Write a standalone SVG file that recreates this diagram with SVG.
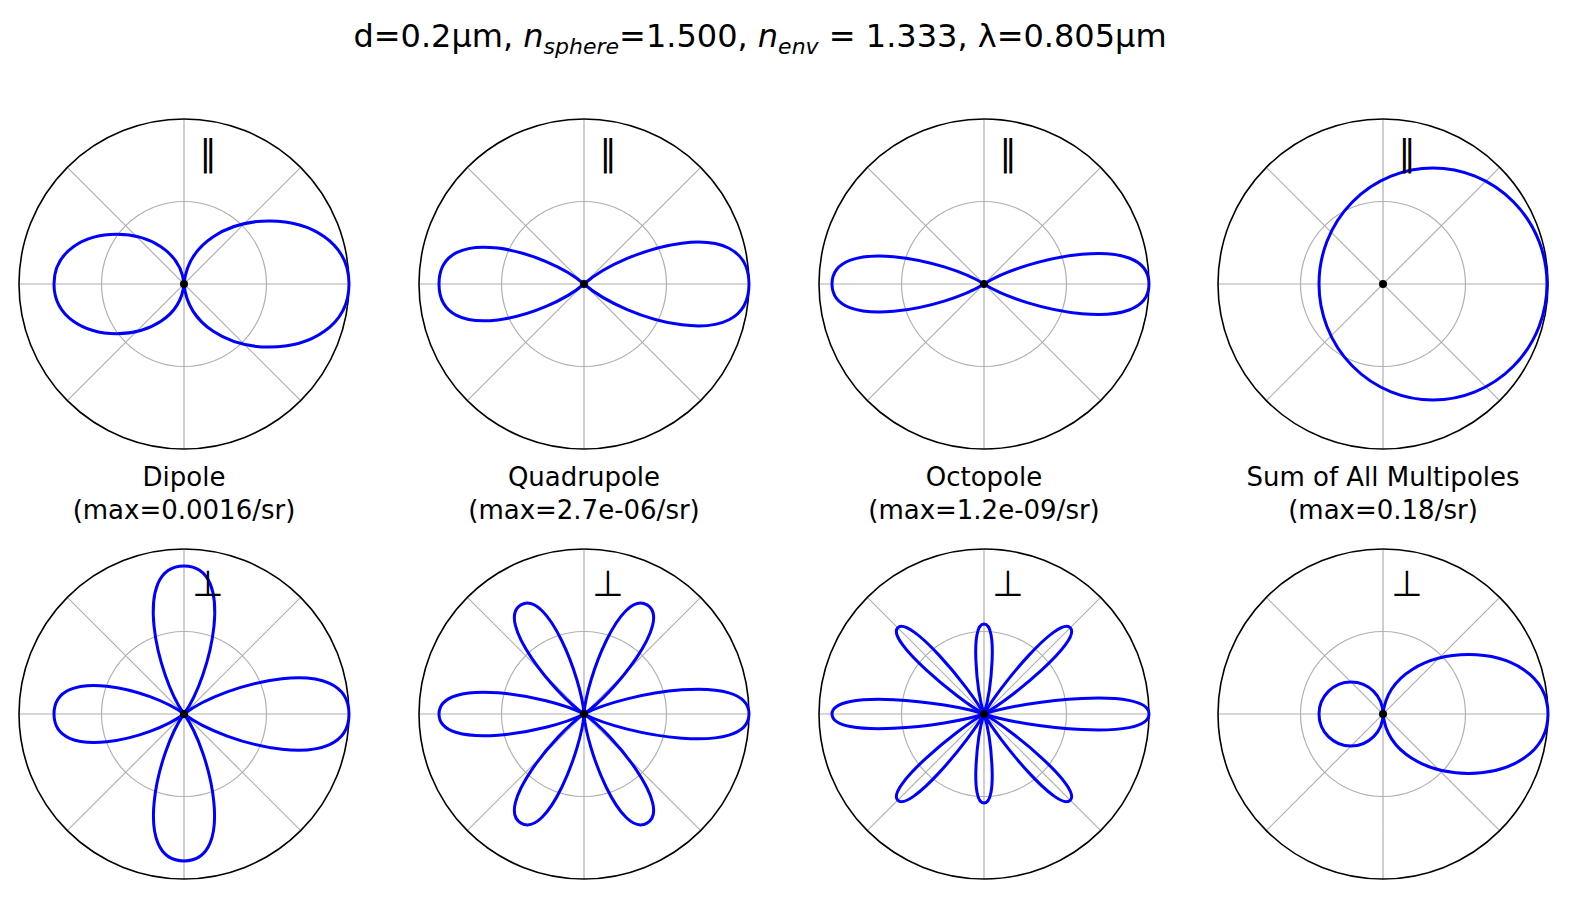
<svg xmlns="http://www.w3.org/2000/svg" xmlns:xlink="http://www.w3.org/1999/xlink" width="1587" height="910" viewBox="0 0 1587 910">
<style>
text{font-family:"DejaVu Sans",sans-serif;fill:#000}
.lbl{font-size:26px;text-anchor:middle}
.sym{font-size:36px;text-anchor:middle}
.grid{fill:none;stroke:#b0b0b0;stroke-width:1.2}
.frame{fill:none;stroke:#000;stroke-width:1.6}
.curve{fill:none;stroke:#0000ff;stroke-width:3;vector-effect:non-scaling-stroke}
</style>
<defs>
<g id="ax">
<circle r="165" fill="#fff"/>
<path class="grid" d="M-165 0H165M0 -165V165M-116.7 -116.7L116.7 116.7M-116.7 116.7L116.7 -116.7"/>
<circle class="grid" r="82.5"/>
<circle class="frame" r="165"/>
</g>
<path id="c51" class="curve" d="M0 0C5 -51 100 -51 100 0C100 51 5 51 0 0Z"/>
<path id="c48" class="curve" d="M0 0C5 -48 100 -48 100 0C100 48 5 48 0 0Z"/>
<path id="c34" class="curve" d="M0 0C25 -22 100 -44 100 0C100 44 25 22 0 0Z"/>
<path id="c30" class="curve" d="M0 0C25 -19 100 -38 100 0C100 38 25 19 0 0Z"/>
<path id="c28" class="curve" d="M0 0C25 -18 100 -36 100 0C100 36 25 18 0 0Z"/>
<path id="c25" class="curve" d="M0 0C25 -16 100 -32 100 0C100 32 25 16 0 0Z"/>
<path id="c20" class="curve" d="M0 0C25 -13 100 -26 100 0C100 26 25 13 0 0Z"/>
<path id="c19" class="curve" d="M0 0C25 -12.3 100 -24.5 100 0C100 24.5 25 12.3 0 0Z"/>
<path id="c13" class="curve" d="M0 0C25 -8.4 100 -16.8 100 0C100 16.8 25 8.4 0 0Z"/>
<path id="c12" class="curve" d="M0 0C25 -8 100 -16 100 0C100 16 25 8 0 0Z"/>
<path id="c11" class="curve" d="M0 0C25 -7.1 100 -14.2 100 0C100 14.2 25 7.1 0 0Z"/>
</defs>
<rect width="1587" height="910" fill="#fff"/>
<text x="760" y="47" font-size="32" text-anchor="middle">d=0.2μm, <tspan font-style="italic">n</tspan><tspan font-size="22" font-style="italic" dy="7">sphere</tspan><tspan dy="-7">=1.500, </tspan><tspan font-style="italic">n</tspan><tspan font-size="22" font-style="italic" dy="7">env</tspan><tspan dy="-7"> = 1.333, λ=0.805μm</tspan></text>

<g id="dipole-par" transform="translate(184,284)">
<use xlink:href="#ax"/>
<use xlink:href="#c51" transform="scale(1.65)"/>
<use xlink:href="#c51" transform="rotate(180) scale(1.3)"/>
<circle r="4"/>
<text class="sym" x="24" y="-118">∥</text>
</g>
<g id="quad-par" transform="translate(584,284)">
<use xlink:href="#ax"/>
<use xlink:href="#c34" transform="scale(1.65)"/>
<use xlink:href="#c34" transform="rotate(180) scale(1.45)"/>
<circle r="4"/>
<text class="sym" x="24" y="-118">∥</text>
</g>
<g id="oct-par" transform="translate(984,284)">
<use xlink:href="#ax"/>
<use xlink:href="#c25" transform="scale(1.65)"/>
<use xlink:href="#c25" transform="rotate(180) scale(1.52)"/>
<circle r="4"/>
<text class="sym" x="24" y="-118">∥</text>
</g>
<g id="sum-par" transform="translate(1383,284)">
<use xlink:href="#ax"/>
<ellipse class="curve" cx="50" cy="0" rx="114" ry="116"/>
<circle r="4"/>
<text class="sym" x="24" y="-118">∥</text>
</g>

<text class="lbl" x="184" y="486">Dipole</text>
<text class="lbl" x="184" y="519">(max=0.0016/sr)</text>
<text class="lbl" x="584" y="486">Quadrupole</text>
<text class="lbl" x="584" y="519">(max=2.7e-06/sr)</text>
<text class="lbl" x="984" y="486">Octopole</text>
<text class="lbl" x="984" y="519">(max=1.2e-09/sr)</text>
<text class="lbl" x="1383" y="486">Sum of All Multipoles</text>
<text class="lbl" x="1383" y="519">(max=0.18/sr)</text>

<g id="dipole-perp" transform="translate(184,714)">
<use xlink:href="#ax"/>
<use xlink:href="#c30" transform="scale(1.65)"/>
<use xlink:href="#c30" transform="rotate(180) scale(1.3)"/>
<use xlink:href="#c28" transform="rotate(-90) scale(1.48)"/>
<use xlink:href="#c28" transform="rotate(90) scale(1.47)"/>
<circle r="4"/>
<text class="sym" x="24" y="-118">⊥</text>
</g>
<g id="quad-perp" transform="translate(584,714)">
<use xlink:href="#ax"/>
<use xlink:href="#c20" transform="scale(1.65)"/>
<use xlink:href="#c20" transform="rotate(180) scale(1.45)"/>
<use xlink:href="#c19" transform="rotate(-60) scale(1.26)"/>
<use xlink:href="#c19" transform="rotate(-120) scale(1.26)"/>
<use xlink:href="#c19" transform="rotate(60) scale(1.26)"/>
<use xlink:href="#c19" transform="rotate(120) scale(1.26)"/>
<circle r="4"/>
<text class="sym" x="24" y="-118">⊥</text>
</g>
<g id="oct-perp" transform="translate(984,714)">
<use xlink:href="#ax"/>
<use xlink:href="#c13" transform="scale(1.65)"/>
<use xlink:href="#c13" transform="rotate(180) scale(1.52)"/>
<use xlink:href="#c12" transform="rotate(-90) scale(0.9)"/>
<use xlink:href="#c12" transform="rotate(90) scale(0.89)"/>
<use xlink:href="#c11" transform="rotate(-45) scale(1.22)"/>
<use xlink:href="#c11" transform="rotate(-135) scale(1.22)"/>
<use xlink:href="#c11" transform="rotate(45) scale(1.22)"/>
<use xlink:href="#c11" transform="rotate(135) scale(1.22)"/>
<circle r="4"/>
<text class="sym" x="24" y="-118">⊥</text>
</g>
<g id="sum-perp" transform="translate(1383,714)">
<use xlink:href="#ax"/>
<use xlink:href="#c48" transform="scale(1.65)"/>
<circle class="curve" cx="-32" cy="0" r="32"/>
<circle r="4"/>
<text class="sym" x="24" y="-118">⊥</text>
</g>
</svg>
